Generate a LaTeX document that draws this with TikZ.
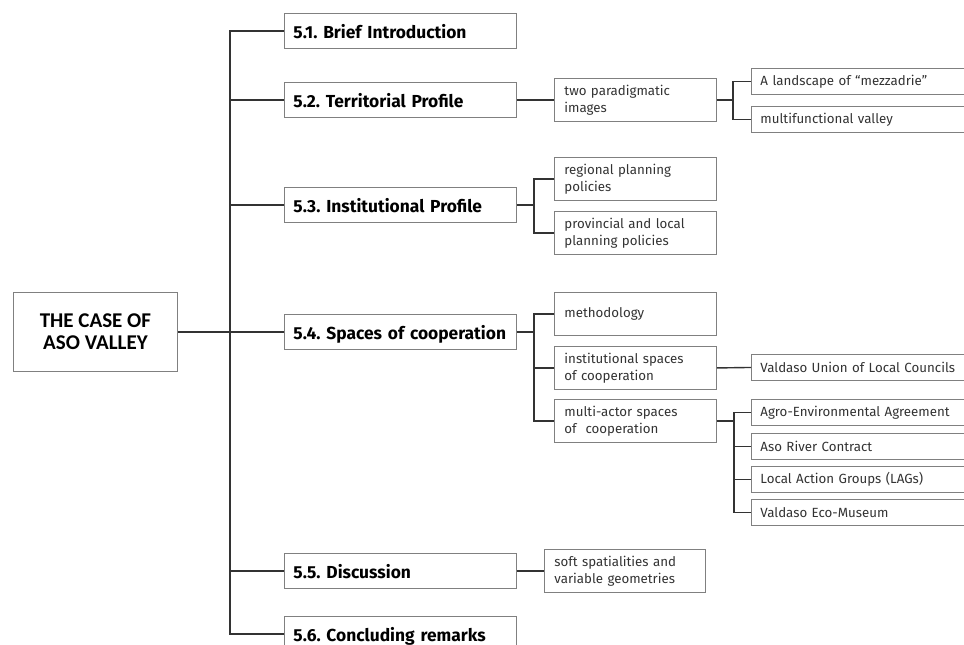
\documentclass[tikz,border=0pt]{standalone}
\usepackage{fontspec}
\setmainfont{Fira Sans}
\newfontfamily\rootfont{Carlito}
\definecolor{boxline}{HTML}{808080}
\definecolor{connline}{HTML}{333333}
\definecolor{txt}{HTML}{333333}
\frenchspacing
\begin{document}
\begin{tikzpicture}[x=1pt,y=-1pt,
  box/.style={draw=boxline, line width=0.9pt, fill=white, anchor=north west, inner ysep=0pt},
  rootbox/.style={box, minimum width=164, minimum height=79, align=center, inner xsep=0pt,
    font=\rootfont\bfseries\fontsize{21}{22}\selectfont},
  lone/.style={box, minimum height=35, text width=218, inner xsep=9pt, align=left,
    minimum width=232, text depth=0pt,
    font=\bfseries\fontsize{17.4}{19}\selectfont},
  ltwo/.style={box, minimum height=43, text width=142, inner xsep=10pt, align=left, text=txt,
    font=\fontsize{13.3}{17}\selectfont},
  lthree/.style={box, minimum height=26, text width=230, inner xsep=9pt, align=left, text=txt,
    font=\fontsize{13.3}{16}\selectfont},
  conn/.style={draw=connline, line width=1.4pt}
]
\clip (0,0) rectangle (964,645);
\fill[white] (0,0) rectangle (964,645);

% root
\node[rootbox] (root) at (13,292) {THE CASE OF\\ASO VALLEY};

% level 1 (boxes 232 wide)
\node[lone, inner xsep=9pt, text width=214] (s1) at (284,13) {5.1. Brief Introduction};
\node[lone, text width=214] (s2) at (284,82) {5.2. Territorial Profile};
\node[lone, text width=214] (s3) at (284,187) {5.3. Institutional Profile};
\node[lone, text width=214] (s4) at (284,314) {\makebox[214pt][l]{5.4. Spaces of cooperation}};
\node[lone, text width=214] (s5) at (284,553) {5.5. Discussion};
\node[lone, text width=214] (s6) at (284,616) {5.6. Concluding remarks};

% level 2
\node[ltwo] (tp) at (554,78) {two paradigmatic\\images};
\node[ltwo] (rp) at (554,157) {regional planning\\policies};
\node[ltwo] (pp) at (554,211) {provincial and local\\planning policies};
\node[ltwo] (me) at (554,292) {methodology};
\node[ltwo] (is) at (554,346) {institutional spaces\\of cooperation};
\node[ltwo] (ma) at (554,399) {multi-actor spaces\\of\ \ cooperation};
\node[ltwo, text width=141] (so) at (544,549) {soft spatialities and\\variable geometries};

% level 3
\node[lthree] (m1) at (751,68) {A landscape of “mezzadrie”};
\node[lthree] (m2) at (751,106) {multifunctional valley};
\node[lthree] (vu) at (751,354) {Valdaso Union of Local Councils};
\node[lthree] (ag) at (751,399) {Agro-Environmental Agreement};
\node[lthree] (ar) at (751,433) {Aso River Contract};
\node[lthree] (lg) at (751,466) {Local Action Groups (LAGs)};
\node[lthree] (ec) at (751,499) {Valdaso Eco-Museum};

% connectors
\coordinate (trunk) at (230,0);
\coordinate (f3) at (534,0);
\coordinate (ft) at (733,0);
\coordinate (fm) at (734,0);

\draw[conn] (root.east) -- (root.east -| trunk);
\draw[conn] (s1.west) -- (s1.west -| trunk) -- (s6.west -| trunk) -- (s6.west);
\foreach \n in {s2,s3,s4,s5} \draw[conn] (\n.west) -- (\n.west -| trunk);

\draw[conn] (s2.east) -- (tp.west);
\draw[conn] (tp.east) -- (tp.east -| ft);
\draw[conn] (m1.west) -- (m1.west -| ft) -- (m2.west -| ft) -- (m2.west);

\draw[conn] (s3.east) -- (s3.east -| f3);
\draw[conn] (rp.west) -- (rp.west -| f3) -- (pp.west -| f3) -- (pp.west);

\draw[conn] (s4.east) -- (s4.east -| f3);
\draw[conn] (me.west) -- (me.west -| f3) -- (ma.west -| f3) -- (ma.west);
\draw[conn] (is.west) -- (is.west -| f3);

\draw[conn] (is.east) -- (vu.west);
\draw[conn] (ma.east) -- (ma.east -| fm);
\draw[conn] (ag.west) -- (ag.west -| fm) -- (ec.west -| fm) -- (ec.west);
\foreach \n in {ar,lg} \draw[conn] (\n.west) -- (\n.west -| fm);

\draw[conn] (s5.east) -- (so.west);
\end{tikzpicture}
\end{document}
